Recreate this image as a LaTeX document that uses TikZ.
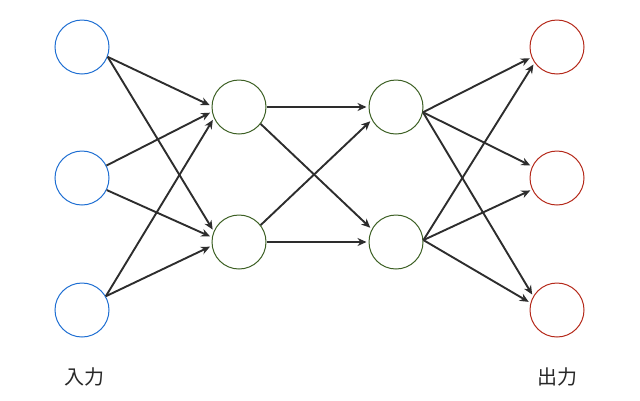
\documentclass[tikz,border=0pt]{standalone}
\usepackage{fontspec}
\newfontfamily\cjk{Noto Sans CJK JP}
\usetikzlibrary{arrows.meta}
\definecolor{inblue}{RGB}{30,110,210}
\definecolor{hidgreen}{RGB}{60,95,35}
\definecolor{outred}{RGB}{180,40,25}
\definecolor{arrowgray}{RGB}{45,45,45}
\definecolor{labelgray}{RGB}{40,40,40}
\begin{document}
\begin{tikzpicture}[x=1pt,y=-1pt,
  neuron/.style={circle,draw,line width=1pt,minimum size=54pt,inner sep=0pt},
  innode/.style={neuron,draw=inblue},
  hidnode/.style={neuron,draw=hidgreen},
  outnode/.style={neuron,draw=outred},
  conn/.style={draw=arrowgray,line width=1.9pt,-{Stealth[length=9pt,width=8pt]},shorten >=2pt},
  lab/.style={font=\cjk\fontsize{20}{24}\selectfont,text=labelgray}]
\useasboundingbox (0,0) rectangle (640,400);
\node[innode] (i1) at (82,47) {};
\node[innode] (i2) at (82,178) {};
\node[innode] (i3) at (82,310) {};
\node[hidnode] (a1) at (239,107) {};
\node[hidnode] (a2) at (239,242) {};
\node[hidnode] (b1) at (396,107) {};
\node[hidnode] (b2) at (396,242) {};
\node[outnode] (o1) at (557,47) {};
\node[outnode] (o2) at (557,178) {};
\node[outnode] (o3) at (557,310) {};
\node[lab] (lin) at (84,377) {入力};
\node[lab] (lout) at (557,377) {出力};
% input -> hidden 1
\draw[conn] (i1.-21) -- (a1.178);
\draw[conn] (i1.-21) -- (a2.157);
\draw[conn] (i2.27) -- (a1.190);
\draw[conn] (i2.-26) -- (a2.170);
\draw[conn] (i3.30) -- (a1.204);
\draw[conn] (i3.30) -- (a2.188);
% hidden 1 -> hidden 2
\draw[conn] (a1.0) -- (b1.180);
\draw[conn] (a1.-38) -- (b2.152);
\draw[conn] (a2.38) -- (b1.208);
\draw[conn] (a2.0) -- (b2.180);
% hidden 2 -> output
\draw[conn] (b1.-11) -- (o1.202);
\draw[conn] (b1.-11) -- (o2.155);
\draw[conn] (b1.-11) -- (o3.150);
\draw[conn] (b2.4) -- (o1.215);
\draw[conn] (b2.4) -- (o2.205);
\draw[conn] (b2.4) -- (o3.165);
\end{tikzpicture}
\end{document}
